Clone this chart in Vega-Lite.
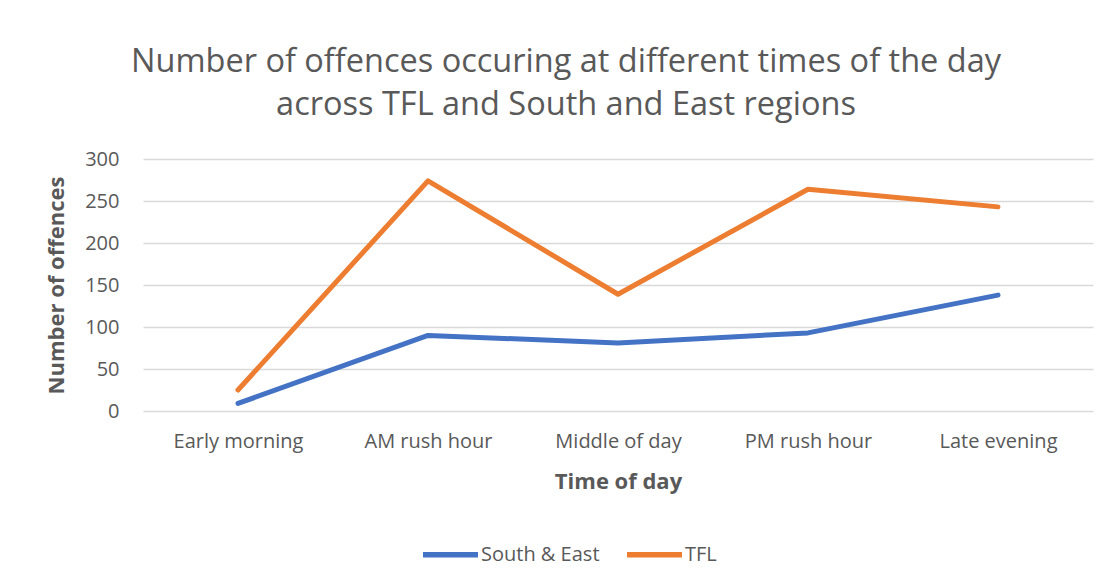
{
  "$schema": "https://vega.github.io/schema/vega-lite/v6.json",
  "width": 950,
  "height": 252,
  "autosize": {"type": "none"},
  "padding": {"left": 143, "top": 159, "right": 16, "bottom": 169},
  "background": "white",
  "title": {
    "text": ["Number of offences occuring at different times of the day", "across TFL and South and East regions"],
    "anchor": "middle",
    "frame": "group",
    "dx": -52,
    "offset": 28,
    "font": "Open Sans",
    "fontSize": 32.5,
    "fontWeight": "normal",
    "lineHeight": 43,
    "color": "#595959"
  },
  "data": {
    "values": [
      {"time": "Early morning", "region": "South & East", "offences": 9},
      {"time": "AM rush hour", "region": "South & East", "offences": 90},
      {"time": "Middle of day", "region": "South & East", "offences": 81},
      {"time": "PM rush hour", "region": "South & East", "offences": 93},
      {"time": "Late evening", "region": "South & East", "offences": 138},
      {"time": "Early morning", "region": "TFL", "offences": 25},
      {"time": "AM rush hour", "region": "TFL", "offences": 274},
      {"time": "Middle of day", "region": "TFL", "offences": 139},
      {"time": "PM rush hour", "region": "TFL", "offences": 264},
      {"time": "Late evening", "region": "TFL", "offences": 243}
    ]
  },
  "mark": {"type": "line", "strokeWidth": 5, "strokeCap": "round", "strokeJoin": "round"},
  "encoding": {
    "x": {
      "field": "time",
      "type": "ordinal",
      "sort": ["Early morning", "AM rush hour", "Middle of day", "PM rush hour", "Late evening"],
      "scale": {"type": "point", "padding": 0.5},
      "axis": {
        "title": "Time of day",
        "labelAngle": 0,
        "ticks": false,
        "domain": false,
        "labelPadding": 20,
        "labelFontSize": 20,
        "labelFont": "Open Sans",
        "labelColor": "#595959",
        "titleFont": "Open Sans",
        "titleFontSize": 22,
        "titleFontWeight": "bold",
        "titleColor": "#595959",
        "titlePadding": 20
      }
    },
    "y": {
      "field": "offences",
      "type": "quantitative",
      "scale": {"domain": [0, 300], "nice": false},
      "axis": {
        "title": "Number of offences",
        "values": [0, 50, 100, 150, 200, 250, 300],
        "ticks": false,
        "domain": false,
        "labelPadding": 24,
        "labelFontSize": 20,
        "labelFont": "Open Sans",
        "labelColor": "#595959",
        "gridColor": "#d9d9d9",
        "gridWidth": 1.5,
        "titleFont": "Open Sans",
        "titleFontSize": 22,
        "titleFontWeight": "bold",
        "titleColor": "#595959",
        "titlePadding": 16
      }
    },
    "color": {
      "field": "region",
      "type": "nominal",
      "scale": {"domain": ["South & East", "TFL"], "range": ["#4472C4", "#ED7D31"]},
      "legend": {
        "title": null,
        "orient": "none",
        "direction": "horizontal",
        "legendX": 277,
        "legendY": 365,
        "symbolType": "stroke",
        "symbolSize": 3025,
        "symbolStrokeWidth": 5.5,
        "labelFont": "Open Sans",
        "labelFontSize": 20,
        "labelColor": "#595959",
        "labelOffset": 0,
        "columnPadding": 16
      }
    }
  },
  "config": {
    "view": {"stroke": null},
    "axisX": {"grid": false}
  }
}
